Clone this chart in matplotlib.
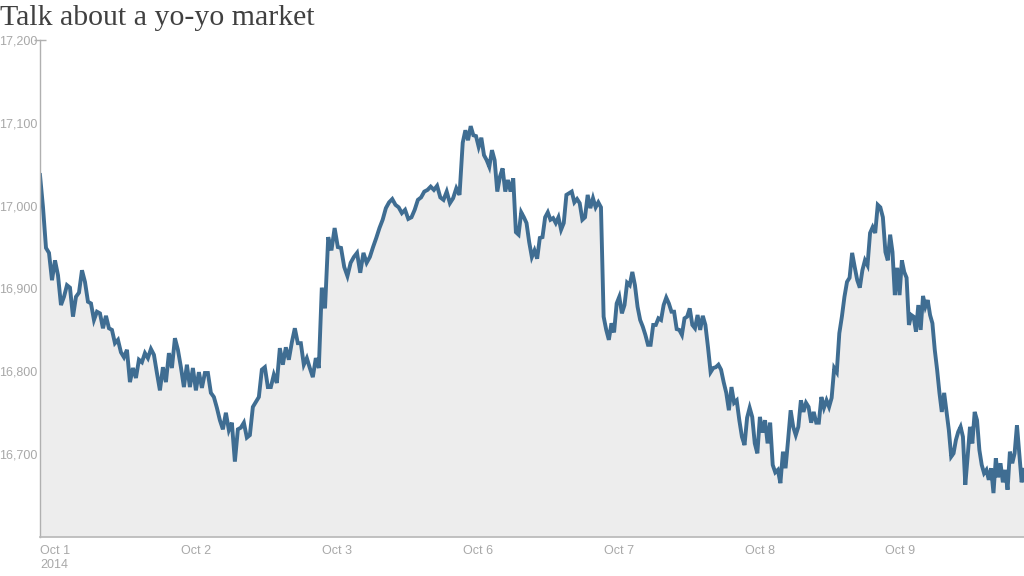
import matplotlib
matplotlib.use("Agg")
import matplotlib.pyplot as plt
import numpy as np

# Dow Jones intraday values, one list per trading day
day_labels = ["Oct 1\n2014", "Oct 2", "Oct 3", "Oct 6", "Oct 7", "Oct 8", "Oct 9"]

oct1 = [17037, 16998, 16949, 16943, 16910, 16934, 16916, 16880, 16890, 16904,
        16901, 16866, 16890, 16895, 16922, 16908, 16884, 16882, 16862, 16872,
        16870, 16852, 16867, 16852, 16850, 16834, 16838, 16823, 16817, 16826,
        16787, 16804, 16792, 16814, 16811, 16822, 16816, 16827, 16820, 16798,
        16777, 16805, 16787, 16822, 16804, 16840, 16826]
oct2 = [16805, 16781, 16808, 16781, 16804, 16777, 16799, 16780, 16798, 16798,
        16774, 16769, 16756, 16741, 16730, 16750, 16729, 16738, 16691, 16730,
        16732, 16738, 16720, 16723, 16757, 16763, 16769, 16802, 16805, 16781,
        16781, 16796, 16786, 16828, 16808, 16829, 16814, 16835, 16852, 16834,
        16834, 16808, 16816, 16804, 16793, 16816, 16804]
oct3 = [16901, 16876, 16962, 16946, 16973, 16950, 16949, 16926, 16915, 16931,
        16938, 16943, 16919, 16943, 16931, 16938, 16950, 16961, 16973, 16983,
        16997, 17004, 17008, 17001, 16998, 16991, 16995, 16984, 16986, 16995,
        17007, 17010, 17017, 17019, 17023, 17019, 17024, 17010, 17007, 17017,
        17003, 17009, 17021, 17013]
oct6 = [17076, 17091, 17079, 17096, 17085, 17084, 17071, 17082, 17061, 17055,
        17047, 17067, 17055, 17017, 17035, 17045, 17017, 17031, 17017, 17033,
        16968, 16965, 16992, 16986, 16979, 16956, 16938, 16946, 16936, 16961,
        16962, 16986, 16992, 16983, 16985, 16979, 16986, 16971, 16979, 17013,
        17015, 17017, 17004, 17008, 17003, 16983, 16986, 17013, 16997, 17009,
        16998, 17004, 16998]
oct7 = [16866, 16850, 16838, 16858, 16847, 16882, 16890, 16870, 16880, 16907,
        16904, 16920, 16904, 16878, 16862, 16854, 16844, 16832, 16832, 16856,
        16856, 16864, 16862, 16880, 16889, 16882, 16872, 16872, 16851, 16850,
        16844, 16864, 16866, 16876, 16856, 16852, 16868, 16850, 16867, 16856,
        16829, 16799, 16804, 16805, 16808, 16802, 16787, 16774, 16753, 16781,
        16762, 16765, 16741, 16721]
oct8 = [16711, 16744, 16756, 16745, 16713, 16701, 16745, 16726, 16741, 16713,
        16738, 16687, 16678, 16681, 16665, 16703, 16683, 16717, 16753, 16733,
        16723, 16733, 16765, 16751, 16762, 16757, 16738, 16751, 16738, 16738,
        16769, 16756, 16765, 16757, 16768, 16804, 16799, 16846, 16866, 16890,
        16908, 16913, 16943, 16926, 16910, 16901, 16922, 16934, 16928, 16967,
        16974, 16967, 17001, 16998, 16986]
oct9 = [16944, 16934, 16965, 16944, 16892, 16925, 16892, 16934, 16920, 16913,
        16856, 16868, 16866, 16848, 16880, 16850, 16891, 16878, 16886, 16868,
        16858, 16826, 16802, 16774, 16751, 16774, 16751, 16729, 16697, 16701,
        16717, 16727, 16733, 16721, 16663, 16697, 16733, 16713, 16751, 16741,
        16705, 16687, 16677, 16681, 16669, 16683, 16653, 16695, 16672, 16689,
        16666, 16681, 16657, 16703, 16689, 16701, 16735, 16701, 16666, 16681]

days = [oct1, oct2, oct3, oct6, oct7, oct8, oct9]
y_ticks = [16700, 16800, 16900, 17000, 17100, 17200]

# spread each day's readings evenly across that trading day
t = np.concatenate([d + np.arange(len(v)) / len(v) for d, v in enumerate(days)])
v = np.concatenate([np.array(v, dtype=float) for v in days])

fig = plt.figure(figsize=(10.24, 5.76), dpi=100)
ax = fig.add_axes([40 / 1024, 39 / 576, 984 / 1024, 497 / 576])

ymin = 16600
ax.fill_between(t, v, ymin, color="#ededed", lw=0)
ax.plot(t, v, color="#3f6d92", lw=2.8, solid_joinstyle="miter")

ax.set_xlim(0, t[-1])
ax.set_ylim(ymin, 17200)

for side in ["top", "right"]:
    ax.spines[side].set_visible(False)
ax.spines["left"].set_color("#b0b0b0")
ax.spines["bottom"].set_color("#b8b8b8")
ax.spines["left"].set_linewidth(1)
ax.spines["bottom"].set_linewidth(1.2)

tick_font = ["Liberation Sans", "DejaVu Sans"]
ax.set_yticks(y_ticks)
ax.set_yticklabels([f"{y:,}" for y in y_ticks], family=tick_font,
                   fontsize=9, color="#a8a8a8")
ax.set_xticks(range(len(day_labels)))
ax.set_xticklabels(day_labels, family=tick_font, fontsize=9,
                   color="#a8a8a8", ha="left", va="top", linespacing=1.2)
ax.tick_params(axis="both", length=0)
ax.tick_params(axis="y", pad=2)
ax.tick_params(axis="x", pad=6)

# small cap at the top of the value axis
ax.plot([0], [17200], marker="_", markersize=8, color="#b0b0b0",
        clip_on=False, mew=1)

fig.text(0.0, 1 - 25 / 576, "Talk about a yo-yo market",
         family=["Liberation Serif", "DejaVu Serif"], fontsize=21.5,
         color="#404040", va="baseline", ha="left")

fig.savefig("out.png", dpi=100)
